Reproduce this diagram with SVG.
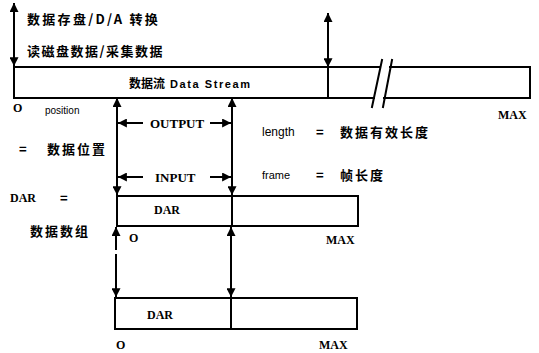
<svg xmlns="http://www.w3.org/2000/svg" width="539" height="353" viewBox="0 0 539 353">
<style>
.ln{stroke:#000;stroke-width:2;fill:none;stroke-linecap:square}
.bx{stroke:#000;stroke-width:2;fill:#fff}
.cn{font-family:"Noto Sans CJK SC","Liberation Sans",sans-serif;font-weight:bold;font-size:13px;fill:#000}
.lt{font-family:"Liberation Serif",serif;font-weight:bold;font-size:12px;fill:#000}
.sm{font-family:"Liberation Sans",sans-serif;font-size:11px;fill:#000}
</style>
<defs>
<marker id="ah" viewBox="0 0 8 8" refX="7" refY="4" markerWidth="4.5" markerHeight="4.5" orient="auto-start-reverse" markerUnits="strokeWidth">
<path d="M0,0 L8,4 L0,8 Z" fill="#000"/>
</marker>
</defs>
<rect width="539" height="353" fill="#fff"/>

<g id="stream">
<rect x="14" y="67" width="516" height="31" fill="#fff"/>
<path class="ln" d="M14,67 V98 H374 M384,98 H530 V67 H390 M380,67 H14"/>
<path class="ln" d="M382,60 L372,107 M392,60 L383,107"/>
<text class="cn" x="129" y="88" style="font-size:12px">数据流</text>
<text class="sm" x="170" y="88" style="font-weight:bold" textLength="80" lengthAdjust="spacing">Data Stream</text>
<text class="lt" x="13" y="112">O</text>
<text class="lt" x="498" y="119">MAX</text>
</g>

<g id="dar1">
<rect class="bx" x="117" y="196" width="241" height="30"/>
<text class="lt" x="154" y="214">DAR</text>
<text class="lt" x="129" y="242">O</text>
<text class="lt" x="326" y="244">MAX</text>
</g>

<g id="dar2">
<rect class="bx" x="115" y="298" width="242" height="31"/>
<text class="lt" x="147" y="319">DAR</text>
<text class="lt" x="116" y="349">O</text>
<text class="lt" x="319" y="349">MAX</text>
</g>

<g id="connectors">
<line class="ln" x1="14" y1="4" x2="14" y2="65" marker-start="url(#ah)" marker-end="url(#ah)"/>
<line class="ln" x1="328" y1="14" x2="328" y2="66" marker-start="url(#ah)" marker-end="url(#ah)"/>
<line class="ln" x1="328" y1="67" x2="328" y2="98"/>
<line class="ln" x1="117" y1="99" x2="117" y2="194" marker-start="url(#ah)" marker-end="url(#ah)"/>
<line class="ln" x1="232" y1="99" x2="232" y2="194" marker-start="url(#ah)" marker-end="url(#ah)"/>
<line class="ln" x1="232" y1="196" x2="232" y2="226"/>
<line class="ln" x1="116" y1="228" x2="116" y2="249" marker-start="url(#ah)"/>
<line class="ln" x1="116" y1="255" x2="116" y2="296" marker-end="url(#ah)"/>
<line class="ln" x1="231" y1="228" x2="231" y2="296" marker-start="url(#ah)" marker-end="url(#ah)"/>
<line class="ln" x1="231" y1="298" x2="231" y2="329"/>
<line class="ln" x1="142" y1="123" x2="119" y2="123" marker-end="url(#ah)"/>
<line class="ln" x1="211" y1="123" x2="230" y2="123" marker-end="url(#ah)"/>
<line class="ln" x1="142" y1="177" x2="119" y2="177" marker-end="url(#ah)"/>
<line class="ln" x1="211" y1="177" x2="230" y2="177" marker-end="url(#ah)"/>
</g>

<g id="labels">
<text class="cn" x="27" y="24" style="letter-spacing:2.3px">数据存盘/D/A 转换</text>
<text class="cn" x="27" y="56" style="letter-spacing:1.5px">读磁盘数据/采集数据</text>
<text class="sm" x="45" y="114" style="font-size:10px">position</text>
<text class="cn" x="19" y="154">=</text>
<text class="cn" x="47" y="154" style="letter-spacing:2px">数据位置</text>
<text class="lt" x="150" y="128" style="font-size:13px">OUTPUT</text>
<text class="lt" x="155" y="182" style="font-size:13px">INPUT</text>
<text class="sm" x="262" y="136" style="font-size:12px">length</text>
<text class="cn" x="316" y="137">=</text>
<text class="cn" x="340" y="137" style="letter-spacing:2px">数据有效长度</text>
<text class="sm" x="262" y="179">frame</text>
<text class="cn" x="316" y="180">=</text>
<text class="cn" x="340" y="180" style="letter-spacing:2px">帧长度</text>
<text class="lt" x="10" y="202">DAR</text>
<text class="cn" x="60" y="203">=</text>
<text class="cn" x="30" y="236" style="letter-spacing:2px">数据数组</text>
</g>
</svg>
